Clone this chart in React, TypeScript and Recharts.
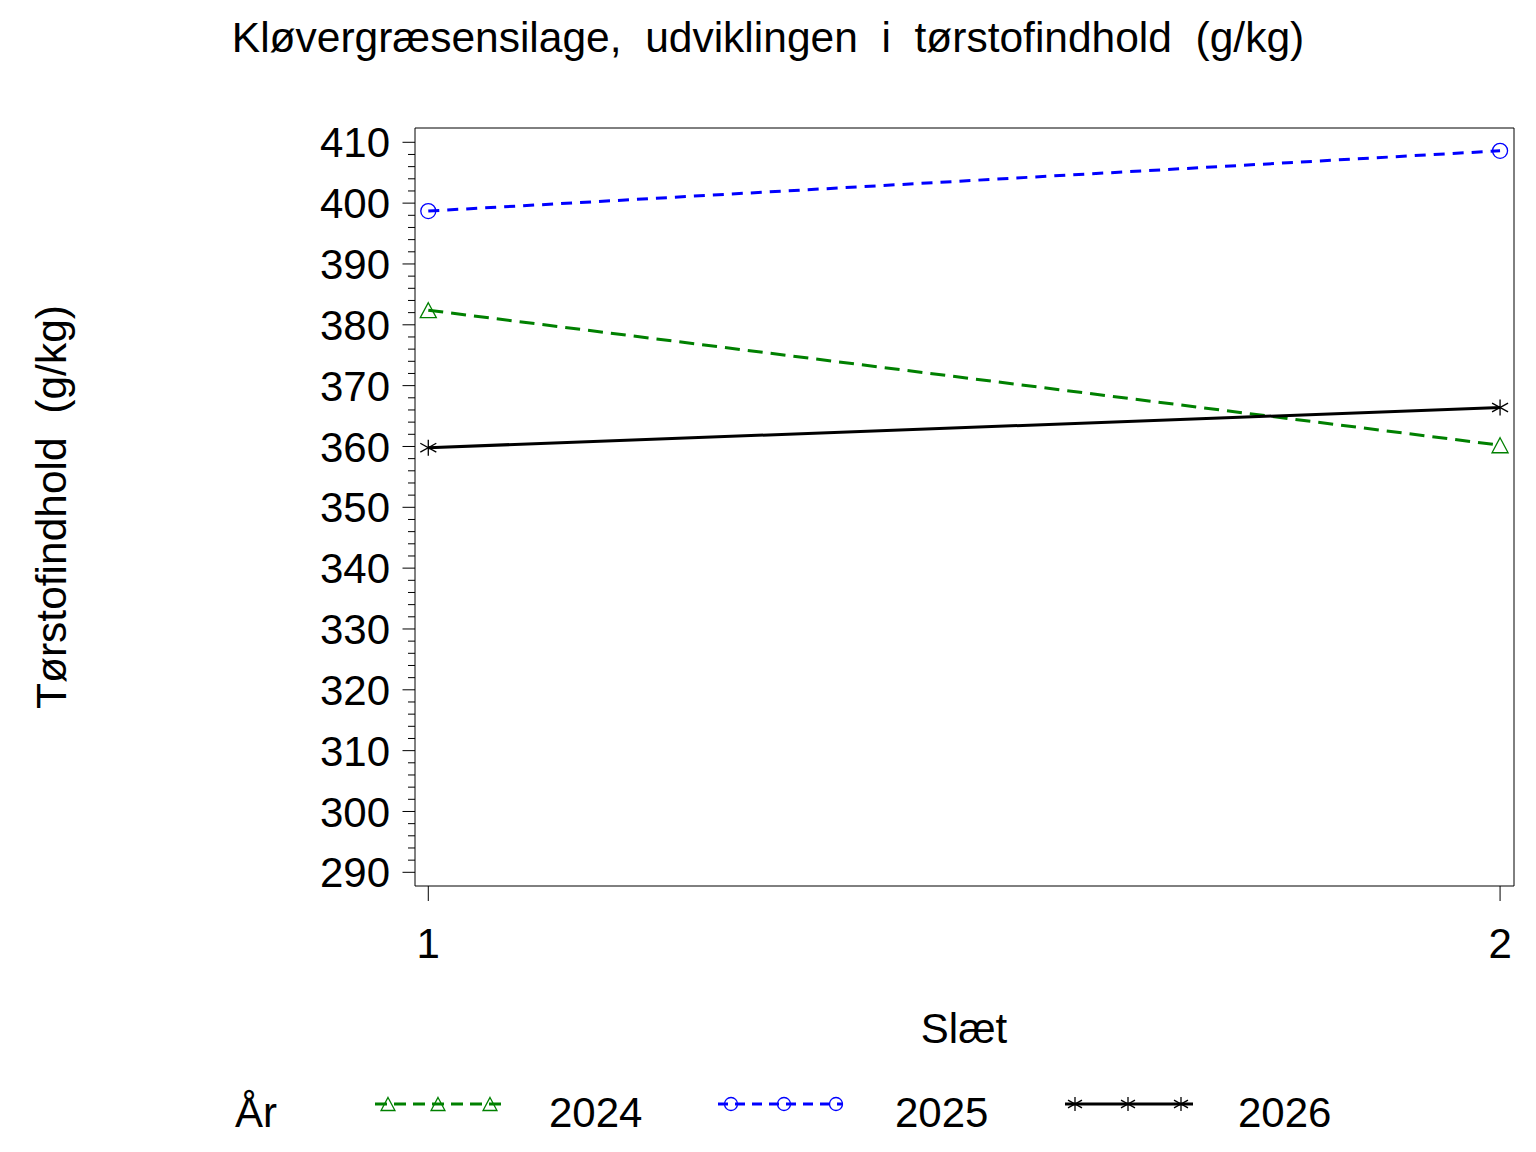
import React from 'react';
import { LineChart, Line, XAxis, YAxis, ReferenceArea, Legend, Label } from 'recharts';

const slaet = [1, 2];
const y2024 = [382.4, 360.2];
const y2025 = [398.7, 408.6];
const y2026 = [359.8, 366.4];
const seriesNames = ['2024', '2025', '2026'];

const majorTicks = [290, 300, 310, 320, 330, 340, 350, 360, 370, 380, 390, 400, 410];
const minorOffsets = [0, 2, 4, 6, 8];
const yTicks = majorTicks.flatMap((v) => minorOffsets.map((o) => v + o)).filter((v) => v <= 410);
const xTicks = [1, 2];

const data = slaet.map((s, i) => ({ slaet: s, y2024: y2024[i], y2025: y2025[i], y2026: y2026[i] }));

const FONT = '"Liberation Sans", Arial, Helvetica, sans-serif';
const GREEN = '#008000';
const BLUE = '#0000FF';
const BLACK = '#000000';

const X_DOMAIN: [number, number] = [0.9876, 2.013];
const Y_DOMAIN: [number, number] = [287.75, 412.35];

const Triangle = ({ cx, cy, size = 15 }: any) => {
  const h = size;
  const w = size * 1.07;
  return (
    <path
      d={`M${cx},${cy - h / 2} L${cx + w / 2},${cy + h / 2} L${cx - w / 2},${cy + h / 2} Z`}
      fill="none"
      stroke={GREEN}
      strokeWidth={1.3}
    />
  );
};

const Circ = ({ cx, cy, r = 7.5 }: any) => (
  <circle cx={cx} cy={cy} r={r} fill="none" stroke={BLUE} strokeWidth={1.3} />
);

const Star = ({ cx, cy, s = 8 }: any) => (
  <g stroke={BLACK} strokeWidth={1.3}>
    <line x1={cx} y1={cy - s} x2={cx} y2={cy + s} />
    <line x1={cx - s} y1={cy - s * 0.55} x2={cx + s} y2={cy + s * 0.55} />
    <line x1={cx - s} y1={cy + s * 0.55} x2={cx + s} y2={cy - s * 0.55} />
  </g>
);

const YTick = (props: any) => {
  const { x, y, payload } = props;
  const v = payload.value;
  const major = v % 10 === 0;
  return (
    <g>
      <line x1={x - (major ? 12.5 : 7)} x2={x} y1={y} y2={y} stroke={BLACK} strokeWidth={1} />
      {major && (
        <text x={x - 25} y={y} dy="0.36em" textAnchor="end" fontFamily={FONT} fontSize={42} fill={BLACK}>
          {v}
        </text>
      )}
    </g>
  );
};

const XTick = (props: any) => {
  const { x, y, payload } = props;
  return (
    <g>
      <line x1={x} x2={x} y1={y} y2={y + 15} stroke={BLACK} strokeWidth={1} />
      <text x={x} y={y + 72} textAnchor="middle" fontFamily={FONT} fontSize={42} fill={BLACK}>
        {payload.value}
      </text>
    </g>
  );
};

const LegendContent = () => (
  <svg width={1536} height={82} style={{ display: 'block' }}>
    <text x={235} y={57} fontFamily={FONT} fontSize={42} fill={BLACK}>År</text>
    <line x1={375} x2={505} y1={34} y2={34} stroke={GREEN} strokeWidth={3} strokeDasharray="12 7" />
    {[388, 438, 490].map((cx, i) => <Triangle key={'t' + i} cx={cx} cy={34} size={13} />)}
    <text x={549} y={57} fontFamily={FONT} fontSize={42} fill={BLACK}>{seriesNames[0]}</text>
    <line x1={718} x2={843} y1={34} y2={34} stroke={BLUE} strokeWidth={3} strokeDasharray="10 7" />
    {[731, 784, 836].map((cx, i) => <Circ key={'c' + i} cx={cx} cy={34} r={6.5} />)}
    <text x={895} y={57} fontFamily={FONT} fontSize={42} fill={BLACK}>{seriesNames[1]}</text>
    <line x1={1065} x2={1193} y1={34} y2={34} stroke={BLACK} strokeWidth={3} />
    {[1075, 1128, 1181].map((cx, i) => <Star key={'s' + i} cx={cx} cy={34} s={7} />)}
    <text x={1238} y={57} fontFamily={FONT} fontSize={42} fill={BLACK}>{seriesNames[2]}</text>
  </svg>
);

export default function App() {
  return (
    <div style={{ position: 'absolute', left: 0, top: 0, width: 1536, height: 1152, background: '#fff' }}>
      <svg width={1536} height={80} style={{ position: 'absolute', left: 0, top: 0 }}>
        <text x={768} y={52} textAnchor="middle" fontFamily={FONT} fontSize={42.5} fill={BLACK} style={{ whiteSpace: 'pre' }}>
          {'Kløvergræsensilage,  udviklingen  i  tørstofindhold  (g/kg)'}
        </text>
      </svg>
      <div style={{ position: 'absolute', left: 0, top: 0 }}>
        <LineChart width={1536} height={1152} data={data} margin={{ top: 128, right: 22, bottom: 186, left: 0 }}>
          <XAxis
            dataKey="slaet"
            type="number"
            domain={X_DOMAIN}
            ticks={xTicks}
            interval={0}
            allowDataOverflow
            axisLine={false}
            tickLine={false}
            tickSize={0}
            tickMargin={0}
            height={80}
            tick={<XTick />}
          >
            <Label
              content={() => (
                <text x={964} y={1043} textAnchor="middle" fontFamily={FONT} fontSize={42} fill={BLACK}>
                  Slæt
                </text>
              )}
            />
          </XAxis>
          <YAxis
            type="number"
            domain={Y_DOMAIN}
            ticks={yTicks}
            interval={0}
            allowDataOverflow
            axisLine={false}
            tickLine={false}
            tickSize={0}
            tickMargin={0}
            width={415}
            tick={<YTick />}
          >
            <Label
              content={() => (
                <text
                  transform="translate(66,507) rotate(-90)"
                  textAnchor="middle"
                  fontFamily={FONT}
                  fontSize={42.5}
                  fill={BLACK}
                  style={{ whiteSpace: 'pre' }}
                >
                  {'Tørstofindhold  (g/kg)'}
                </text>
              )}
            />
          </YAxis>
          <ReferenceArea
            x1={X_DOMAIN[0]}
            x2={X_DOMAIN[1]}
            y1={Y_DOMAIN[0]}
            y2={Y_DOMAIN[1]}
            fill="none"
            fillOpacity={0}
            stroke={BLACK}
            strokeWidth={1}
            ifOverflow="visible"
          />
          <Line
            type="linear"
            dataKey="y2024"
            name={seriesNames[0]}
            stroke={GREEN}
            strokeWidth={3}
            strokeDasharray="15 8"
            dot={(p: any) => <Triangle key={'d24' + p.index} cx={p.cx} cy={p.cy} size={15} />}
            activeDot={false}
            isAnimationActive={false}
          />
          <Line
            type="linear"
            dataKey="y2025"
            name={seriesNames[1]}
            stroke={BLUE}
            strokeWidth={3}
            strokeDasharray="11 8"
            dot={(p: any) => <Circ key={'d25' + p.index} cx={p.cx} cy={p.cy} r={7.5} />}
            activeDot={false}
            isAnimationActive={false}
          />
          <Line
            type="linear"
            dataKey="y2026"
            name={seriesNames[2]}
            stroke={BLACK}
            strokeWidth={3}
            dot={(p: any) => <Star key={'d26' + p.index} cx={p.cx} cy={p.cy} s={8} />}
            activeDot={false}
            isAnimationActive={false}
          />
          <Legend
            layout="vertical"
            align="center"
            verticalAlign="middle"
            content={<LegendContent />}
            wrapperStyle={{ position: 'absolute', left: 0, top: 1070, width: 1536, height: 82 }}
          />
        </LineChart>
      </div>
    </div>
  );
}
